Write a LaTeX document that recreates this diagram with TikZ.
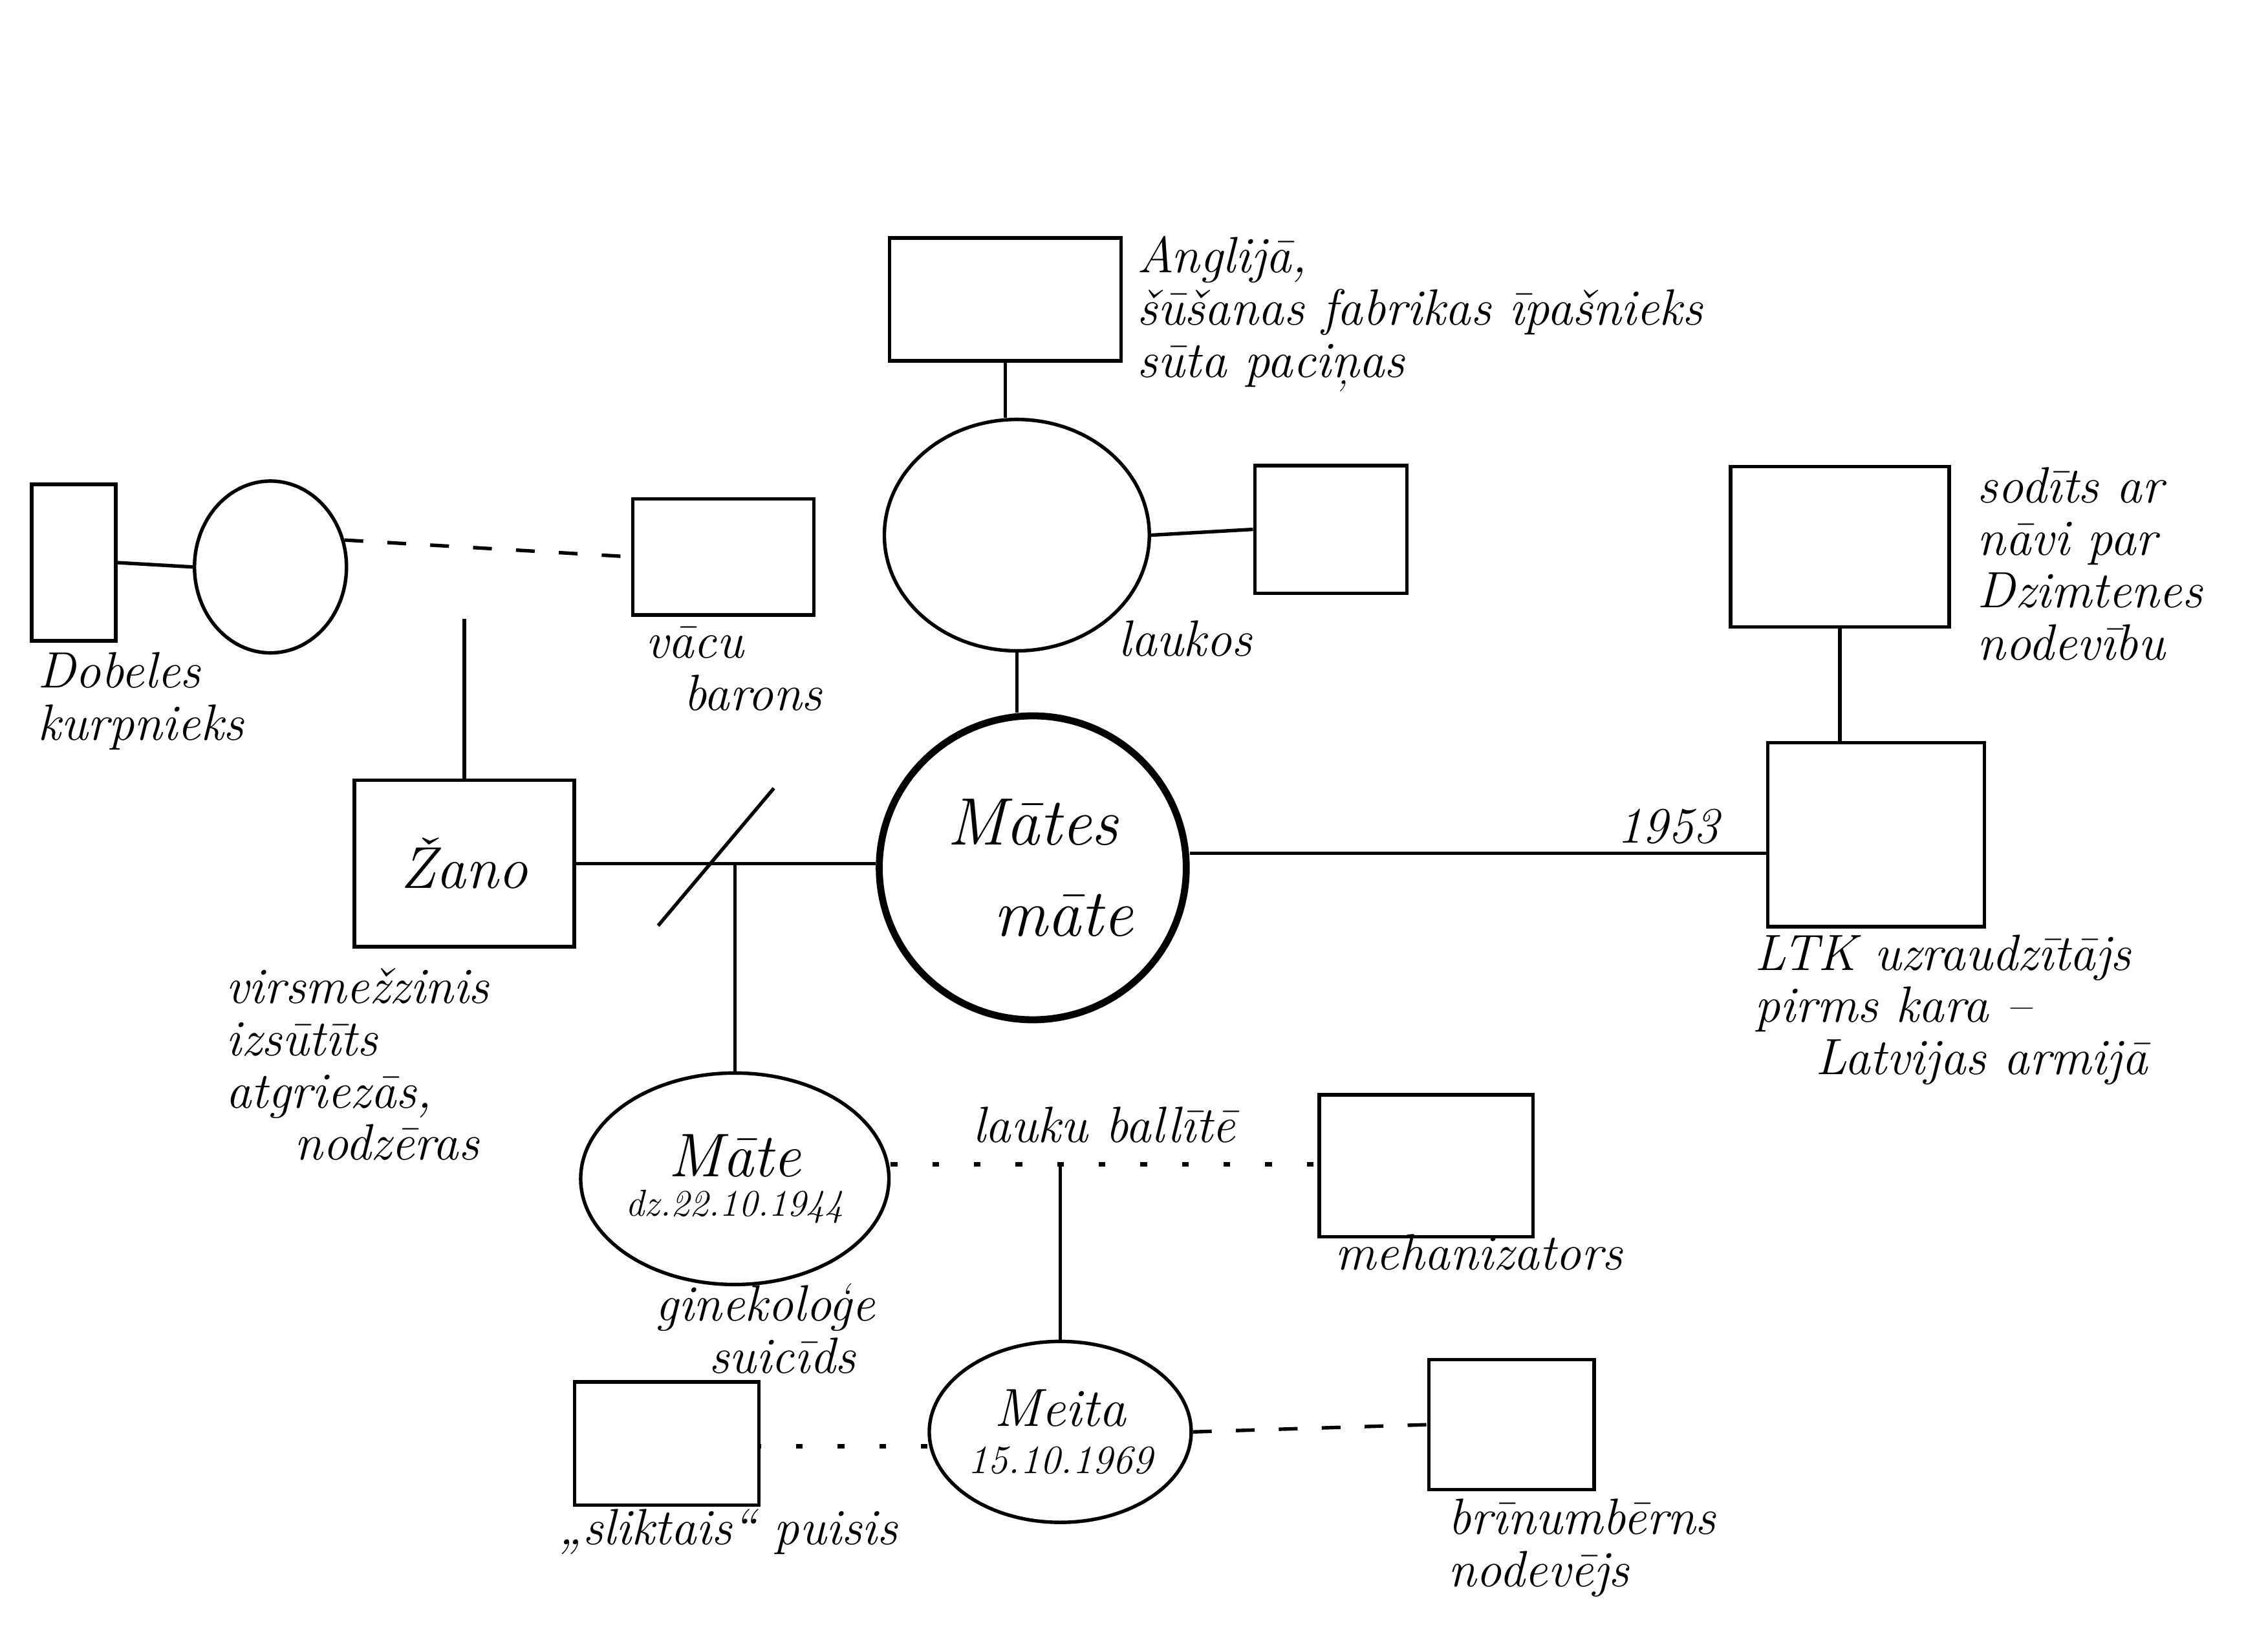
\documentclass[tikz,border=0pt]{standalone}
\usetikzlibrary{shapes.geometric}

\begin{document}
\begin{tikzpicture}[
x=0.18941mm, y=-0.18941mm,
line width=1.3pt,
manbox/.style={draw, rectangle, inner sep=0pt},
womanbox/.style={draw, ellipse, inner sep=0pt, align=center},
note/.style={anchor=north west, align=left, inner sep=0pt, font=\fontsize{19}{19.5}\selectfont\itshape},
dotline/.style={line width=1.6pt, dash pattern=on 2.5pt off 13pt},
dashline/.style={line width=1.3pt, dash pattern=on 7pt off 9pt}
]
\useasboundingbox (0,0) rectangle (1568,1140);

% mates mates vecaki
\node[manbox, minimum width=30.3mm, minimum height=16.1mm] (gfather) at (695,207) {};
\node[womanbox, minimum width=34.7mm, minimum height=30.3mm] (gmother) at (703,370) {};
\node[manbox, minimum width=19.9mm, minimum height=16.7mm] (lauku) at (920,366) {};
\node[note] (anglija) at (785,162) {Anglijā,\\šūšanas fabrikas īpašnieks\\sūta paciņas};
\node[note] (laukos) at (772,428) {laukos};

% mates mate
\node[womanbox, line width=2.6pt, minimum width=40.2mm, minimum height=39.8mm,
  font=\fontsize{25}{34}\selectfont\itshape] (mm) at (714,600) {Mātes\\\hspace*{8mm}māte};

% otrais virs
\node[manbox, minimum width=28.6mm, minimum height=21.0mm] (husbfather) at (1272,378) {};
\node[manbox, minimum width=28.4mm, minimum height=24.1mm] (husb) at (1297,577) {};
\node[note] (sodits) at (1366,322) {sodīts ar\\nāvi par\\Dzimtenes\\nodevību};
\node[note] (ltk) at (1212,645) {LTK uzraudzītājs\\pirms kara –\\\hspace*{8mm}Latvijas armijā};

% zano puse
\node[manbox, minimum width=11.0mm, minimum height=20.5mm] (kurp) at (51,389) {};
\node[womanbox, minimum width=19.9mm, minimum height=22.5mm] (zgm) at (187,392) {};
\node[manbox, minimum width=23.7mm, minimum height=15.2mm] (baron) at (500,385) {};
\node[manbox, minimum width=28.8mm, minimum height=21.8mm, font=\fontsize{22}{26}\selectfont\itshape] (zano) at (321,597) {Žano};
\coordinate (zfather) at (321,428);
\node[note] (dobele) at (25,450) {Dobeles\\kurpnieks};
\node[note] (vacu) at (445,432) {vācu\\\hspace*{5mm}barons};
\node[note] (virs) at (155,668) {virsmežzinis\\izsūtīts\\atgriezās,\\\hspace*{9mm}nodzēras};

% mate un meita
\node[womanbox, minimum width=33.1mm, minimum height=27.7mm] (mate) at (508,815)
  {{\fontsize{23}{26}\selectfont\itshape Māte}\\[1mm]{\fontsize{14}{16}\selectfont\itshape dz.22.10.1944}};
\node[manbox, minimum width=28.0mm, minimum height=18.6mm] (meh) at (986,806) {};
\node[note] (ginek) at (452,886) {ginekoloģe\\\hspace*{7mm}suicīds};
\node[note] (mehan) at (922,852) {mehanizators};
\node[womanbox, minimum width=29.4mm, minimum height=23.7mm] (meita) at (733,990)
  {{\fontsize{20}{24}\selectfont\itshape Meita}\\[2mm]{\fontsize{15}{17}\selectfont\itshape 15.10.1969}};
\node[manbox, minimum width=24.1mm, minimum height=16.1mm] (slikt) at (461,998) {};
\node[manbox, minimum width=21.6mm, minimum height=17.0mm] (brin) at (1045,985) {};
\node[note] (sliktais) at (385,1042) {„sliktais“ puisis};
\node[note] (brinum) at (1000,1035) {brīnumbērns\\nodevējs};

% savienojumi
\draw (gfather.south) -- (gfather.south |- gmother.north);
\draw (gmother.east) -- (lauku.west);
\draw (gmother.south) -- (gmother.south |- mm.north);
\draw (mm.east |- 0,590) -- (husb.west |- 0,590) node[pos=0.83, above=1mm, note, anchor=south] (gads) {1953};
\draw (husbfather.south) -- (husbfather.south |- husb.north);
\draw (kurp.east) -- (zgm.west);
\draw[dashline] (zgm.20) -- (baron.west);
\draw (zano.north) -- (zfather);
\draw (zano.east) -- (mm.west |- zano.east);
\draw (455,640) -- (535,545);
\draw (mate.north |- zano.east) -- (mate.north);
\draw[dotline] (mate.east |- 0,805) -- (meh.west |- 0,805) node[midway, above=2.5mm, note, anchor=south] (balle) {lauku ballītē};
\draw (meita.north |- 0,805) -- (meita.north);
\draw[dotline] (meita.west |- 0,1000) -- (slikt.east |- 0,1000);
\draw[dashline] (meita.east) -- (brin.west);
\end{tikzpicture}
\end{document}
